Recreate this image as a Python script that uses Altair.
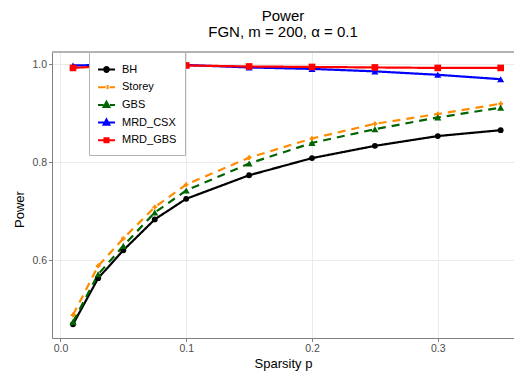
import altair as alt
import pandas as pd

p = [0.01, 0.03, 0.05, 0.075, 0.1, 0.15, 0.2, 0.25, 0.3, 0.35]
methods = ["BH", "Storey", "GBS", "MRD_CSX", "MRD_GBS"]
BH = [0.469, 0.563, 0.620, 0.683, 0.725, 0.773, 0.808, 0.833, 0.853, 0.865]
Storey = [0.488, 0.588, 0.644, 0.708, 0.754, 0.809, 0.848, 0.878, 0.898, 0.919]
GBS = [0.474, 0.571, 0.629, 0.697, 0.742, 0.797, 0.839, 0.867, 0.891, 0.911]
MRD_CSX = [0.997, 0.998, 0.998, 0.998, 0.998, 0.993, 0.990, 0.985, 0.978, 0.969]
MRD_GBS = [0.992, 0.995, 0.995, 0.996, 0.997, 0.995, 0.994, 0.993, 0.992, 0.992]

colors = ["#000000", "#FF8C00", "#006400", "#0000FF", "#FF0000"]
dashes = [[1, 0], [8, 6], [8, 6], [1, 0], [1, 0]]
shapes = ["circle", "cross", "triangle-up", "triangle-up", "square"]
sizes = [34, 22, 50, 50, 44]
legend_paths = [
    "M-1,0H1M0.28,0A0.28,0.28 0 1,1 -0.28,0A0.28,0.28 0 1,1 0.28,0Z",
    "M-1,0H-0.1M0.35,0H1M0.12,-0.25V0.25",
    "M-1,0H-0.35M0.4,0H1M0,-0.38L0.34,0.24L-0.34,0.24Z",
    "M-1,0H1M0,-0.38L0.34,0.24L-0.34,0.24Z",
    "M-1,0H1M-0.24,-0.24H0.24V0.24H-0.24Z",
]

series = {"BH": BH, "Storey": Storey, "GBS": GBS, "MRD_CSX": MRD_CSX, "MRD_GBS": MRD_GBS}
rows = []
for m in methods:
    for xv, yv in zip(p, series[m]):
        rows.append({"p": xv, "power": yv, "method": m})
df = pd.DataFrame(rows)

W, H = 462, 286
xscale = alt.Scale(domain=[-0.0067, 0.3606], nice=False, zero=False)
yscale = alt.Scale(domain=[0.441, 1.0245], nice=False, zero=False)

base = alt.Chart(df)
xenc = alt.X("p:Q", scale=xscale, title="Sparsity p",
             axis=alt.Axis(values=[0, 0.1, 0.2, 0.3], format=".1f", titlePadding=3))
yenc = alt.Y("power:Q", scale=yscale, title="Power",
             axis=alt.Axis(values=[0.6, 0.8, 1.0], format=".1f", titleX=-33, titleY=157,
                           titleBaseline="middle", titleAlign="center", titleAngle=-90))

layers = []
for m, c, d in zip(methods, colors, dashes):
    layers.append(base.transform_filter(alt.datum.method == m)
                  .mark_line(color=c, strokeWidth=2.2, strokeDash=d)
                  .encode(x=xenc, y=yenc))
for m, c, s, sz in zip(methods, colors, shapes, sizes):
    layers.append(base.transform_filter(alt.datum.method == m)
                  .mark_point(color=c, filled=True, shape=s, size=sz, opacity=1)
                  .encode(x=xenc, y=yenc))

legend_layer = base.transform_filter("false").mark_point(filled=True, strokeWidth=2, opacity=1).encode(
    x=xenc, y=yenc,
    shape=alt.Shape("method:N", scale=alt.Scale(domain=methods, range=legend_paths),
                    legend=alt.Legend(title=None)),
    fill=alt.Fill("method:N", scale=alt.Scale(domain=methods, range=colors),
                  legend=alt.Legend(title=None)),
    stroke=alt.Stroke("method:N", scale=alt.Scale(domain=methods, range=colors),
                      legend=alt.Legend(title=None)),
)
layers.append(legend_layer)

top_border = alt.Chart(df).mark_rule(color="#B3B3B3", strokeWidth=1).encode(
    x=alt.value(0), x2=alt.value(W), y=alt.value(0))
layers.append(top_border)

chart = alt.layer(*layers).properties(
    width=W, height=H,
    title=alt.Title(text=["Power", "FGN, m = 200, α = 0.1"], anchor="middle",
                    fontSize=15, fontWeight="normal", font="Liberation Sans",
                    color="black", offset=-3, lineHeight=16, baseline="bottom"),
    autosize=alt.AutoSizeParams(type="none"),
    padding={"left": 52, "top": 52, "right": 0, "bottom": 37},
).configure_view(stroke=None).configure_axis(
    labelFont="Liberation Sans", labelFontSize=10.5, labelColor="#4D4D4D",
    tickColor="#808080", tickSize=3.5, domainColor="#808080", domainWidth=1,
    gridColor="#EBEBEB", gridWidth=1, titleFont="Liberation Sans", titleFontSize=13,
    titleFontWeight="normal", titleColor="black", labelPadding=2,
).configure_legend(
    orient="none", legendX=37, legendY=0, fillColor="white", strokeColor="#B3B3B3",
    padding=8, symbolSize=289, labelFont="Liberation Sans", labelFontSize=11,
    labelColor="black", symbolStrokeWidth=2, rowPadding=1.7, labelOffset=6,
    symbolOpacity=1,
)

chart.save("out.html", embed_options={"renderer": "svg", "actions": False})
